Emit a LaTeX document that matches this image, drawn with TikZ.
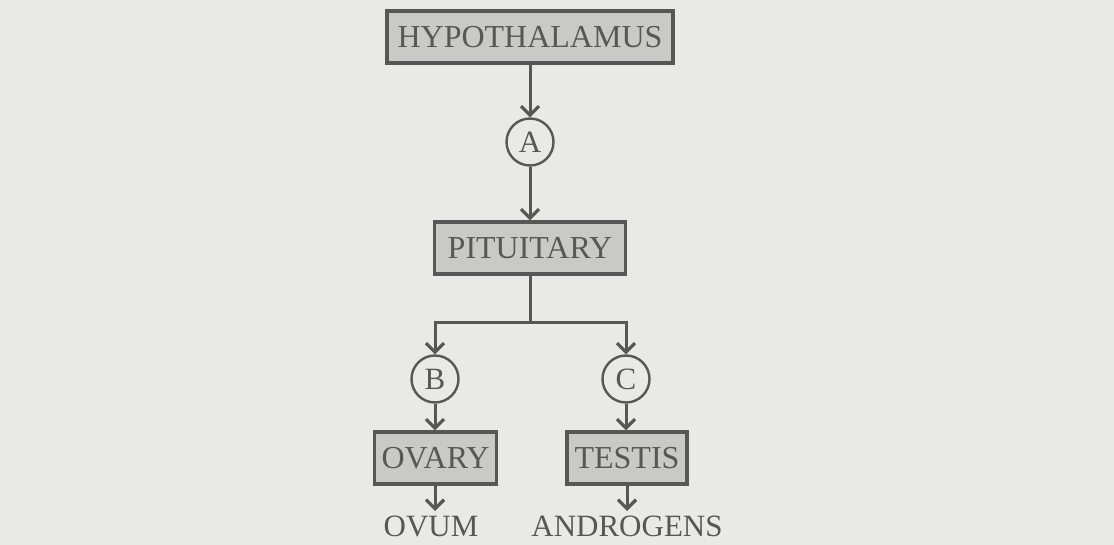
\documentclass[tikz,border=0pt]{standalone}
\usepackage{fontspec}
\setmainfont{Liberation Serif}
\usetikzlibrary{arrows.meta}
\definecolor{paper}{HTML}{E9E9E7}
\definecolor{ink}{HTML}{575757}
\definecolor{boxfill}{HTML}{C9C9C7}
\tikzset{
  organ/.style={draw=ink, line width=3.3pt, fill=boxfill, text=ink, inner sep=0pt,
    font=\fontsize{32}{36}\selectfont},
  hormone/.style={circle, draw=ink, line width=2.4pt, fill=paper, text=ink, inner sep=0pt,
    minimum size=47pt, font=\fontsize{31}{34}\selectfont},
  product/.style={text=ink, inner sep=0pt, anchor=base, font=\fontsize{31}{34}\selectfont},
  link/.style={draw=ink, line width=3pt, -{Straight Barb[length=9pt,width=18pt,line width=3.2pt]}},
  plain/.style={draw=ink, line width=3pt}
}
\begin{document}
\begin{tikzpicture}[x=1pt,y=-1pt]
\fill[paper] (0,0) rectangle (1114,545);
\useasboundingbox (0,0) rectangle (1114,545);
\node[organ, minimum width=286pt, minimum height=52pt] (hyp) at (530,37) {HYPOTHALAMUS};
\node[hormone] (a) at (530,142) {A};
\node[organ, minimum width=191pt, minimum height=52pt] (pit) at (530,248) {PITUITARY};
\coordinate (split) at (530,323);
\coordinate (lb) at (435,323);
\coordinate (rc) at (626,323);
\node[hormone] (b) at (435,379) {B};
\node[hormone] (c) at (626,379) {C};
\node[organ, minimum width=122pt, minimum height=52pt] (ov) at (435.5,458) {OVARY};
\node[organ, minimum width=120pt, minimum height=52pt] (te) at (627,458) {TESTIS};
\node[product] (ovum) at (431,536) {OVUM};
\node[product] (andr) at (627,536) {ANDROGENS};
\coordinate (ovt) at (435,511);
\coordinate (tet) at (627,511);
\draw[link] (hyp.south -| a) -- (a.north);
\draw[link] (a.south) -- (pit.north -| a);
\draw[plain] (pit.south -| split) -- (split);
\draw[link] (split) -- (lb) -- (b.north);
\draw[link] (split) -- (rc) -- (c.north);
\draw[link] (b.south) -- (ov.north -| b);
\draw[link] (c.south) -- (te.north -| c);
\draw[link] (ov.south -| ovt) -- (ovt);
\draw[link] (te.south -| tet) -- (tet);
\end{tikzpicture}
\end{document}
